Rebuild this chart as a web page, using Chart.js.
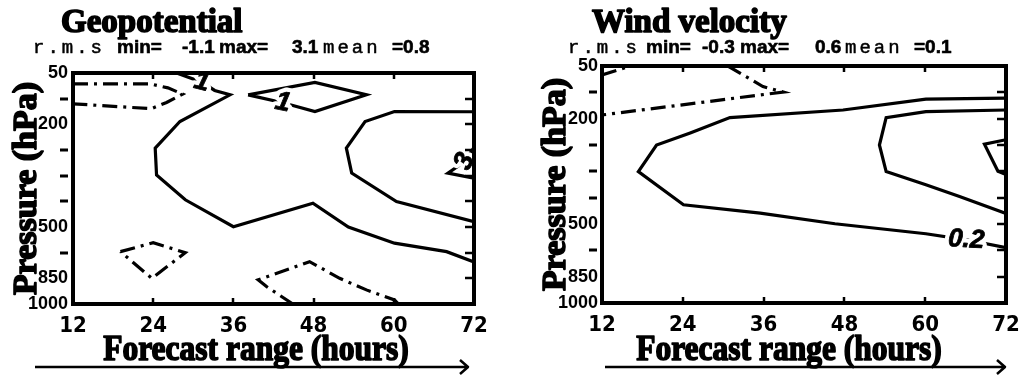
<!DOCTYPE html>
<html>
<head>
<meta charset="utf-8">
<script src="https://cdn.jsdelivr.net/npm/chart.js@4.4.1/dist/chart.umd.min.js"></script>
<style>
  html, body { margin: 0; padding: 0; background: #fff; }
  #wrap { position: relative; width: 1032px; height: 375px; overflow: hidden; background: #fff; }
  .panel { position: absolute; top: 0; width: 516px; height: 375px; }
</style>
</head>
<body>
<div id="wrap">
  <div class="panel" style="left:0"><canvas id="geo" width="516" height="375"></canvas></div>
  <div class="panel" style="left:516px"><canvas id="wind" width="516" height="375"></canvas></div>
</div>
<script>
// ---- axes ----
// Forecast range (hours)
const hourTicks = [12, 24, 36, 48, 60, 72];
// Pressure levels (hPa), drawn equally spaced from top (50) to bottom (1000)
const pressureLevels = [50, 100, 200, 250, 300, 400, 500, 700, 850, 1000];
const labelledLevels = [50, 200, 500, 850, 1000];

// ---- Geopotential r.m.s. contours, points as [hour, level index] ----
const geoPlus1 = [[27.5, 0], [31.3, 0.36], [33.2, 0.68], [35.5, 0.85], [28.0, 1.89], [24.3, 2.93],
  [24.5, 3.97], [28.8, 4.94], [36.0, 5.99], [47.9, 5.07], [53.2, 6.0], [60.1, 6.63], [67.9, 6.96], [72, 7.36]];
const geoPlus1Island = [[38.2, 0.85], [48.2, 0.37], [55.9, 0.85], [48.2, 1.5], [43.4, 1.16], [38.2, 0.85]];
const geoPlus2 = [[72, 1.51], [60.1, 1.5], [55.7, 1.89], [52.9, 2.93], [53.7, 3.9], [60.4, 5.01], [72, 5.79]];
const geoPlus3 = [[72, 2.9], [70.6, 3.45], [68.1, 3.9], [72, 4.1]];
const geoMinus1Top = [[12, 0.42], [23.5, 0.42], [26.2, 0.58], [28.4, 0.82], [26.0, 1.15], [23.7, 1.39], [12, 1.2]];
const geoMinus1Low = [[19.1, 6.96], [24.0, 6.61], [28.8, 7.0], [23.8, 8.0], [19.1, 6.96]];
const geoMinus1Bottom = [[44.9, 9], [41.0, 8.33], [39.7, 8.06], [47.4, 7.35], [51.9, 8.0], [55.9, 8.45], [60.1, 8.84], [60.7, 9]];
const geoLabels = [
  { text: '1', at: [31.3, 0.36], rot: 0.25, size: 27 },
  { text: '1', at: [43.4, 1.16], rot: 0.2, size: 27 },
  { text: '3', at: [70.6, 3.45], rot: -1.15, size: 27 }
];

// ---- Wind velocity r.m.s. contours ----
const windPlus02 = [[72, 1.22], [60.1, 1.26], [47.8, 1.67], [31.0, 1.96], [25.1, 2.54], [20.1, 3.0], [17.4, 4.01],
  [24.1, 5.27], [35.5, 5.59], [46.6, 5.99], [60.1, 6.37], [66.1, 6.6], [72, 6.9]];
const windPlus04 = [[72, 1.67], [60.1, 1.73], [54.2, 1.96], [53.2, 3.0], [54.2, 4.01], [60.1, 4.51], [65.1, 4.96], [72, 5.6]];
const windPlus06 = [[72, 2.8], [68.8, 2.97], [70.8, 4.0], [72, 4.12]];
const windMinus02Corner = [[12, 0.34], [16.2, 0]];
const windMinus02 = [[30.7, 0], [35.9, 0.78], [38.9, 0.99], [35.5, 1.1], [12, 1.86]];
const windLabels = [
  { text: '0.2', at: [66.1, 6.6], rot: 0.06, size: 26 }
];

const DASHDOT = [15, 6, 3, 6];
const SANS_B = '"Liberation Sans", Arial, sans-serif';
const SERIF = '"Liberation Serif", "Times New Roman", serif';
const MONO = '"Liberation Mono", "Courier New", monospace';

function heavyText(ctx, text, x, y, font, stroke) {
  ctx.font = font;
  ctx.fillStyle = '#000';
  ctx.fillText(text, x, y);
  if (stroke) {
    ctx.lineWidth = stroke;
    ctx.strokeStyle = '#000';
    ctx.lineJoin = 'round';
    ctx.strokeText(text, x, y);
  }
}

// Frame, tick marks, titles and contour labels
const decorPlugin = {
  id: 'decor',
  afterDatasetsDraw(chart, args, o) {
    const ctx = chart.ctx;
    const ca = chart.chartArea;
    const xs = chart.scales.x, ys = chart.scales.y;
    ctx.save();

    // contour labels, knocking out the line underneath
    o.labels.forEach(l => {
      const px = xs.getPixelForValue(l.at[0]);
      const py = ys.getPixelForValue(l.at[1]);
      ctx.save();
      ctx.translate(px, py);
      ctx.rotate(l.rot);
      ctx.font = 'italic bold ' + l.size + 'px ' + SANS_B;
      ctx.textAlign = 'center';
      ctx.textBaseline = 'middle';
      ctx.lineWidth = 9;
      ctx.strokeStyle = '#fff';
      ctx.lineJoin = 'round';
      ctx.strokeText(l.text, 0, 0);
      ctx.fillStyle = '#000';
      ctx.fillText(l.text, 0, 0);
      ctx.lineWidth = 0.8;
      ctx.strokeStyle = '#000';
      ctx.strokeText(l.text, 0, 0);
      ctx.restore();
    });

    // frame
    ctx.lineWidth = 4;
    ctx.strokeStyle = '#000';
    ctx.strokeRect(ca.left, ca.top, ca.right - ca.left, ca.bottom - ca.top);

    // inner tick marks: top and bottom at each hour, right side at each level
    ctx.lineWidth = 2.5;
    ctx.beginPath();
    hourTicks.slice(1, -1).forEach(h => {
      const px = Math.round(xs.getPixelForValue(h));
      ctx.moveTo(px, ca.top); ctx.lineTo(px, ca.top + 6);
      ctx.moveTo(px, ca.bottom); ctx.lineTo(px, ca.bottom - 6);
    });
    pressureLevels.forEach((p, i) => {
      if (i === 0 || i === pressureLevels.length - 1) return;
      const py = Math.round(ys.getPixelForValue(i));
      ctx.moveTo(ca.right, py); ctx.lineTo(ca.right - 9, py);
    });
    ctx.stroke();

    // outer dashes at unlabelled levels
    ctx.lineWidth = 3;
    ctx.beginPath();
    pressureLevels.forEach((p, i) => {
      if (labelledLevels.includes(p)) return;
      const py = Math.round(ys.getPixelForValue(i));
      ctx.moveTo(ca.left - 13, py); ctx.lineTo(ca.left - 5, py);
    });
    ctx.stroke();

    // title
    ctx.textBaseline = 'alphabetic';
    ctx.textAlign = 'left';
    heavyText(ctx, o.title, o.titleX, 32, 'bold 33px ' + SERIF, 1.6);

    // statistics line
    o.stats.forEach(s => {
      ctx.textAlign = 'left';
      if (s.mono) {
        ctx.font = '19px ' + MONO;
        ctx.letterSpacing = '3px';
        heavyText(ctx, s.t, s.x, 53, '19px ' + MONO, 0.5);
        ctx.letterSpacing = '0px';
      } else {
        heavyText(ctx, s.t, s.x, 53, 'bold 19px ' + SANS_B, 0.6);
      }
    });

    // y axis title
    ctx.save();
    ctx.translate(o.yTitleX, (ca.top + ca.bottom) / 2);
    ctx.rotate(-Math.PI / 2);
    ctx.textAlign = 'center';
    ctx.textBaseline = 'middle';
    heavyText(ctx, 'Pressure (hPa)', 0, 0, 'bold 34px ' + SERIF, 1.6);
    ctx.restore();

    // x axis title, horizontally condensed
    ctx.save();
    ctx.translate(o.xTitleX, 360);
    ctx.scale(0.9, 1);
    ctx.textAlign = 'center';
    ctx.textBaseline = 'alphabetic';
    heavyText(ctx, 'Forecast range (hours)', 0, 0, 'bold 35px ' + SERIF, 1.6);
    ctx.restore();

    // arrow under the x axis title
    ctx.lineWidth = 2.5;
    ctx.beginPath();
    ctx.moveTo(o.arrow[0], 367); ctx.lineTo(o.arrow[1], 367);
    ctx.moveTo(o.arrow[1] - 8, 360); ctx.lineTo(o.arrow[1], 367); ctx.lineTo(o.arrow[1] - 8, 374);
    ctx.stroke();

    ctx.restore();
  }
};

function buildPanel(id, p) {
  const datasets = p.contours.map(c => ({
    data: c.pts.map(q => ({ x: q[0], y: q[1] })),
    showLine: true,
    borderColor: '#000',
    borderWidth: 3.2,
    borderDash: c.dash ? DASHDOT : [],
    borderJoinStyle: 'miter',
    pointRadius: 0,
    pointHoverRadius: 0,
    fill: false,
    tension: 0
  }));
  return new Chart(document.getElementById(id), {
    type: 'scatter',
    data: { datasets },
    plugins: [decorPlugin],
    options: {
      responsive: false,
      animation: false,
      events: [],
      layout: { padding: { left: 0, right: 516 - p.area.right, top: p.area.top, bottom: 0 } },
      plugins: {
        legend: { display: false },
        tooltip: { enabled: false },
        decor: p.decor
      },
      scales: {
        x: {
          type: 'linear', min: 12, max: 72,
          afterBuildTicks: s => { s.ticks = hourTicks.map(v => ({ value: v })); },
          afterFit: s => { s.height = 375 - p.area.bottom; },
          grid: { display: false, drawTicks: false },
          border: { display: false },
          ticks: {
            color: '#000', padding: 9,
            font: { family: '"Liberation Sans Narrow", "DejaVu Sans Condensed", sans-serif', size: 22, weight: 'bold' },
            callback: v => String(v)
          }
        },
        y: {
          type: 'linear', min: 0, max: 9, reverse: true,
          afterBuildTicks: s => { s.ticks = pressureLevels.map((v, i) => ({ value: i })); },
          afterFit: s => { s.width = p.area.left; },
          grid: { display: false, drawTicks: false },
          border: { display: false },
          ticks: {
            color: '#000', padding: p.yPad,
            font: { family: SANS_B, size: 18, weight: 'bold' },
            callback: v => {
              const lv = pressureLevels[Math.round(v)];
              return labelledLevels.includes(lv) ? String(lv) : '';
            }
          }
        }
      }
    }
  });
}

buildPanel('geo', {
  area: { left: 73, right: 474, top: 73, bottom: 304 },
  yPad: 5,
  contours: [
    { pts: geoPlus1 }, { pts: geoPlus1Island }, { pts: geoPlus2 }, { pts: geoPlus3 },
    { pts: geoMinus1Top, dash: true }, { pts: geoMinus1Low, dash: true }, { pts: geoMinus1Bottom, dash: true }
  ],
  decor: {
    title: 'Geopotential', titleX: 61,
    stats: [
      { t: 'r.m.s', x: 33, mono: true }, { t: 'min=', x: 117 }, { t: '-1.1', x: 182 },
      { t: 'max=', x: 219 }, { t: '3.1', x: 292 }, { t: 'mean', x: 323, mono: true }, { t: '=0.8', x: 392 }
    ],
    labels: geoLabels,
    yTitleX: 27, xTitleX: 256, arrow: [35, 468]
  }
});

buildPanel('wind', {
  area: { left: 86, right: 490, top: 66, bottom: 303 },
  yPad: 4,
  contours: [
    { pts: windPlus02 }, { pts: windPlus04 }, { pts: windPlus06 },
    { pts: windMinus02Corner, dash: true }, { pts: windMinus02, dash: true }
  ],
  decor: {
    title: 'Wind velocity', titleX: 76,
    stats: [
      { t: 'r.m.s', x: 52, mono: true }, { t: 'min=', x: 130 }, { t: '-0.3', x: 186 },
      { t: 'max=', x: 224 }, { t: '0.6', x: 299 }, { t: 'mean', x: 329, mono: true }, { t: '=0.1', x: 398 }
    ],
    labels: windLabels,
    yTitleX: 40, xTitleX: 273, arrow: [89, 489]
  }
});
</script>
</body>
</html>
